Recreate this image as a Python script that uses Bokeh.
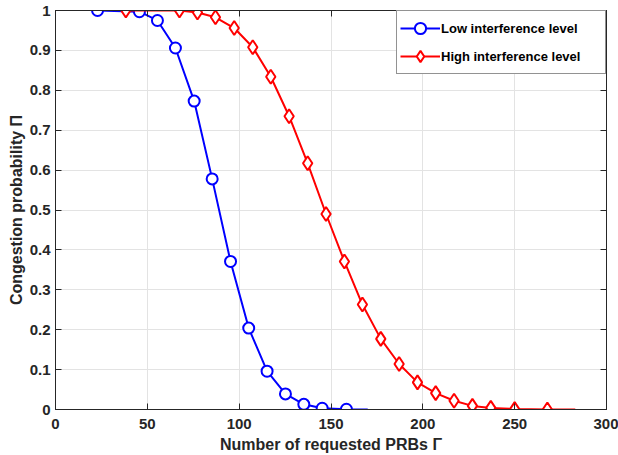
from bokeh.plotting import figure
from bokeh.models import Range1d, LinearAxis, FixedTicker, Legend, LegendItem
from bokeh.embed import file_html
from bokeh.resources import INLINE

# ---- data ----
x_ticks = [0, 50, 100, 150, 200, 250, 300]
y_ticks = [0, 0.1, 0.2, 0.3, 0.4, 0.5, 0.6, 0.7, 0.8, 0.9, 1.0]
y_tick_labels = ["0", "0.1", "0.2", "0.3", "0.4", "0.5", "0.6", "0.7", "0.8", "0.9", "1"]

low_x = [22.9, 45.7, 55.5, 65.3, 75.5, 85.3, 95.3, 105.2, 115.2, 125.2, 135.2, 145.2, 158.4]
low_y = [1.0, 0.997, 0.975, 0.906, 0.773, 0.578, 0.371, 0.204, 0.096, 0.039, 0.013, 0.003, 0.0005]
low_line_x = low_x + [170.0]
low_line_y = low_y + [0.0]

high_x = [38.3, 67.5, 77.3, 87.1, 97.3, 107.4, 117.2, 127.2, 137.3, 147.3, 157.3, 167.1,
          177.1, 187.1, 197.1, 207.0, 217.0, 227.0, 237.0, 250.0, 267.8]
high_y = [1.0, 1.0, 0.995, 0.983, 0.956, 0.908, 0.834, 0.735, 0.617, 0.490, 0.371, 0.263,
          0.177, 0.114, 0.068, 0.041, 0.022, 0.009, 0.004, 0.001, 0.0]
high_line_x = high_x + [283.0]
high_line_y = high_y + [0.0]

series_names = ["Low interference level", "High interference level"]
x_label = "Number of requested PRBs Γ"
y_label = "Congestion probability Π"

FONT = "Liberation Sans"
DARK = "#262626"
GRID = "#e3e3e3"

p = figure(width=618, height=455, output_backend="svg", toolbar_location=None,
           x_range=Range1d(0, 300), y_range=Range1d(0, 1),
           min_border_left=55, min_border_right=12, min_border_top=10, min_border_bottom=46)
p.outline_line_color = DARK
p.outline_line_width = 1
p.background_fill_color = "white"
p.border_fill_color = "white"

def style_axis(ax, ticks, labels=True):
    ax.ticker = FixedTicker(ticks=ticks)
    ax.axis_line_color = DARK
    ax.axis_line_width = 1
    ax.major_tick_line_color = DARK
    ax.major_tick_in = 6
    ax.major_tick_out = 0
    ax.minor_tick_line_color = None
    ax.major_label_text_font = FONT
    ax.major_label_text_font_style = "bold"
    ax.major_label_text_color = DARK
    if labels:
        ax.major_label_text_font_size = "15px"
    else:
        ax.major_label_text_font_size = "1px"
        ax.major_label_overrides = {t: "" for t in ticks}
        ax.major_label_standoff = 0

xa = p.xaxis[0]
ya = p.yaxis[0]
style_axis(xa, x_ticks)
style_axis(ya, y_ticks)
ya.major_label_overrides = {t: s for t, s in zip(y_ticks, y_tick_labels)}
xa.major_label_standoff = 9
ya.major_label_standoff = 5
for ax, lab in ((xa, x_label), (ya, y_label)):
    ax.axis_label = lab
    ax.axis_label_text_font = FONT
    ax.axis_label_text_font_style = "bold"
    ax.axis_label_text_font_size = "16px"
    ax.axis_label_text_color = DARK
xa.axis_label_standoff = 4
ya.axis_label_standoff = 2

top = LinearAxis()
style_axis(top, x_ticks, labels=False)
p.add_layout(top, "above")
right = LinearAxis()
style_axis(right, y_ticks, labels=False)
p.add_layout(right, "right")

p.xgrid.ticker = FixedTicker(ticks=x_ticks)
p.ygrid.ticker = FixedTicker(ticks=y_ticks)
p.xgrid.grid_line_color = GRID
p.ygrid.grid_line_color = GRID

l1 = p.line(low_line_x, low_line_y, line_color="#0000ff", line_width=2)
s1 = p.scatter(low_x, low_y, marker="circle", size=11, line_color="#0000ff",
               line_width=2, fill_color="white")
l2 = p.line(high_line_x, high_line_y, line_color="#ff0000", line_width=2)
s2 = p.scatter(high_x, high_y, marker="diamond", size=14, line_color="#ff0000",
               line_width=2, fill_color="white")

legend = Legend(items=[LegendItem(label=series_names[0], renderers=[l1, s1]),
                       LegendItem(label=series_names[1], renderers=[l2, s2])],
                location="top_right")
legend.margin = 0
legend.padding = 3
legend.spacing = 0
legend.glyph_width = 40
legend.glyph_height = 28
legend.label_height = 28
legend.label_width = 161
legend.label_standoff = 1
legend.label_text_font = FONT
legend.label_text_font_style = "bold"
legend.label_text_font_size = "13px"
legend.label_text_color = "black"
legend.border_line_color = DARK
legend.border_line_width = 1
legend.background_fill_color = "white"
legend.background_fill_alpha = 1
p.add_layout(legend)

open("out.html", "w").write(file_html(p, INLINE))
